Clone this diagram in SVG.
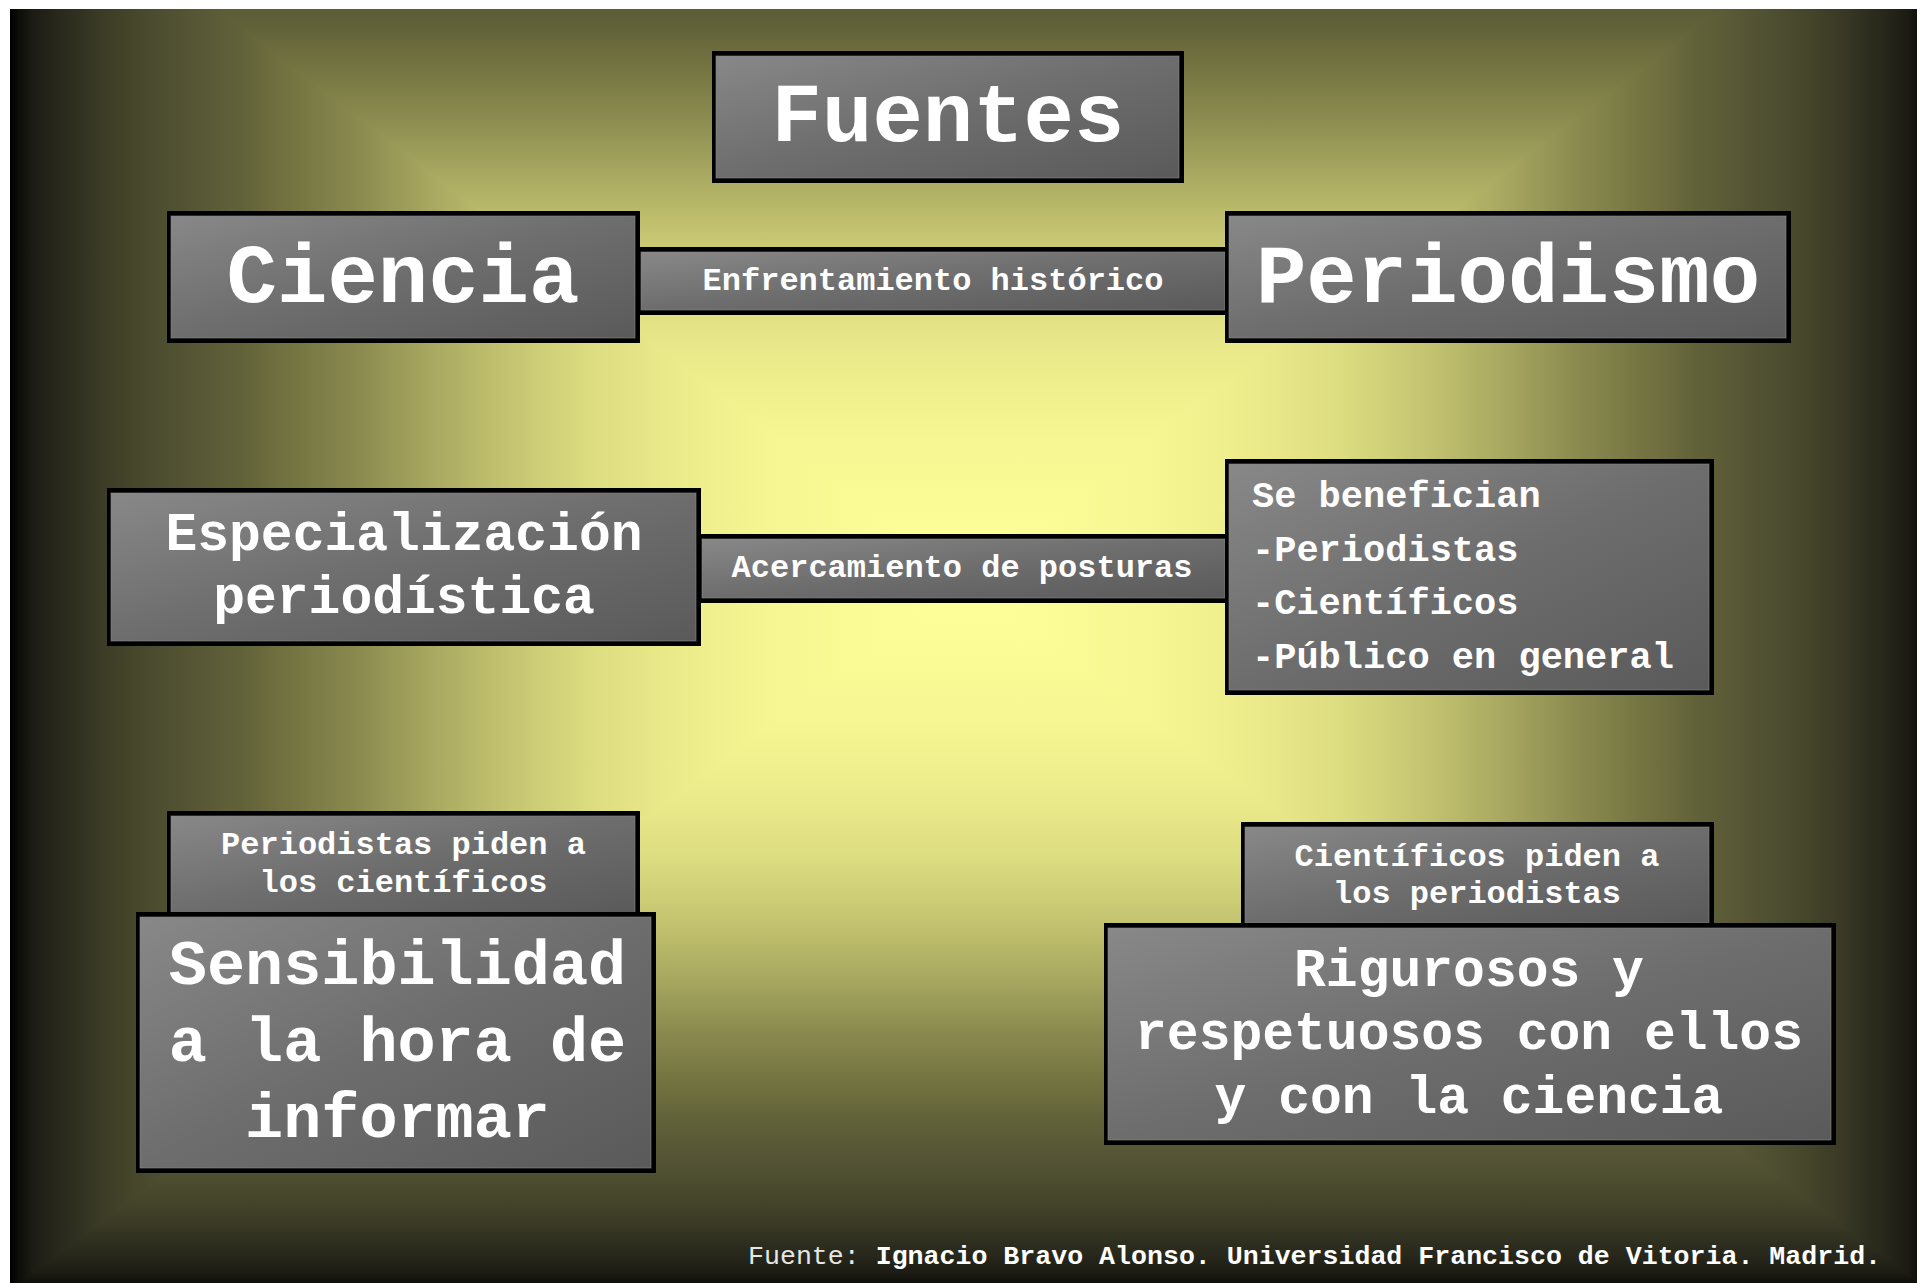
<svg xmlns="http://www.w3.org/2000/svg" width="1917" height="1283" viewBox="0 0 1917 1283">
<style>
.sh{fill:#000}
.face{fill:url(#boxg);stroke:#8a8a8a;stroke-opacity:0.6;stroke-width:1}
.t{font-family:"Liberation Mono","Courier New",monospace;font-weight:bold;fill:#ffffff}
.big{font-size:84px}
.mid{font-size:53px}
.sm{font-size:32px}
</style>
<defs>
<linearGradient id="boxg" x1="0" y1="0" x2="1" y2="1">
<stop offset="0" stop-color="#888888"/>
<stop offset="0.5" stop-color="#6d6d6d"/>
<stop offset="1" stop-color="#5a5a5a"/>
</linearGradient>
<linearGradient id="bgL" gradientUnits="userSpaceOnUse" x1="10" y1="0" x2="964" y2="0">
<stop offset="0" stop-color="#000000"/><stop offset="0.01" stop-color="#0e0e0a"/><stop offset="0.024" stop-color="#1c1c14"/><stop offset="0.06" stop-color="#2c2c1e"/><stop offset="0.094" stop-color="#3a3a26"/><stop offset="0.129" stop-color="#46462b"/><stop offset="0.165" stop-color="#4f4f32"/><stop offset="0.189" stop-color="#555535"/><stop offset="0.24" stop-color="#616139"/><stop offset="0.3" stop-color="#757542"/><stop offset="0.364" stop-color="#8a8a4f"/><stop offset="0.428" stop-color="#a3a35e"/><stop offset="0.49" stop-color="#b9b96a"/><stop offset="0.552" stop-color="#cdcd77"/><stop offset="0.614" stop-color="#dddd81"/><stop offset="0.677" stop-color="#e8e889"/><stop offset="0.74" stop-color="#f0f08e"/><stop offset="0.802" stop-color="#f6f692"/><stop offset="0.93" stop-color="#fdfd98"/><stop offset="1" stop-color="#ffff99"/>
</linearGradient>
<linearGradient id="bgR" href="#bgL" gradientUnits="userSpaceOnUse" x1="1930" y1="0" x2="964" y2="0"/>
<linearGradient id="bgT" href="#bgL" gradientUnits="userSpaceOnUse" x1="0" y1="-150" x2="0" y2="582"/>
<linearGradient id="bgB" href="#bgL" gradientUnits="userSpaceOnUse" x1="0" y1="1290" x2="0" y2="582"/>
<clipPath id="slide"><rect x="10" y="9" width="1907" height="1274"/></clipPath>
</defs>
<rect x="0" y="0" width="1917" height="1283" fill="#ffffff"/>
<g id="background" clip-path="url(#slide)">
<rect x="10" y="9" width="1907" height="1274" fill="#000"/>
<rect x="10" y="-150" width="954" height="1440" fill="url(#bgL)"/>
<rect x="964" y="-150" width="966" height="1440" fill="url(#bgR)"/>
<polygon points="964,582 10,-150 1930,-150" fill="url(#bgT)"/>
<polygon points="964,582 10,1290 1930,1290" fill="url(#bgB)"/>
</g>
<g id="connectors">
<g id="link-enfrentamiento">
<rect class="sh" x="637" y="247" width="592" height="68"/>
<rect class="face" x="641" y="252" width="584" height="58"/>
<text class="t sm" x="933" y="290" text-anchor="middle">Enfrentamiento histórico</text>
</g>
<g id="link-acercamiento">
<rect class="sh" x="698" y="534" width="531" height="69"/>
<rect class="face" x="702" y="539" width="523" height="59"/>
<text class="t sm" x="962" y="577" text-anchor="middle">Acercamiento de posturas</text>
</g>
</g>
<g id="node-fuentes">
<rect class="sh" x="712" y="51" width="472" height="132"/>
<rect class="face" x="716" y="56" width="463" height="122"/>
<text class="t big" x="948" y="141" text-anchor="middle">Fuentes</text>
</g>
<g id="node-ciencia">
<rect class="sh" x="167" y="211" width="473" height="132"/>
<rect class="face" x="171" y="216" width="464" height="122"/>
<text class="t big" x="403" y="302" text-anchor="middle">Ciencia</text>
</g>
<g id="node-periodismo">
<rect class="sh" x="1225" y="211" width="566" height="132"/>
<rect class="face" x="1229" y="216" width="557" height="122"/>
<text class="t big" x="1508" y="302" text-anchor="middle">Periodismo</text>
</g>
<g id="node-especializacion">
<rect class="sh" x="107" y="488" width="594" height="158"/>
<rect class="face" x="111" y="493" width="585" height="148"/>
<text class="t mid" x="404" y="550" text-anchor="middle">Especialización</text>
<text class="t mid" x="404" y="613" text-anchor="middle">periodística</text>
</g>
<g id="node-benefician">
<rect class="sh" x="1225" y="459" width="489" height="236"/>
<rect class="face" x="1229" y="464" width="480" height="226"/>
<g class="t" font-size="37">
<text x="1252" y="507">Se benefician</text>
<text x="1252" y="561">-Periodistas</text>
<text x="1252" y="614">-Científicos</text>
<text x="1252" y="668">-Público en general</text>
</g>
</g>
<g id="node-periodistas-piden">
<rect class="sh" x="167" y="811" width="473" height="107"/>
<rect class="face" x="171" y="816" width="464" height="97"/>
<text class="t sm" x="403.5" y="854" text-anchor="middle">Periodistas piden a</text>
<text class="t sm" x="403.5" y="892" text-anchor="middle">los científicos</text>
</g>
<g id="node-sensibilidad">
<rect class="sh" x="136" y="912" width="520" height="261"/>
<rect class="face" x="140" y="917" width="511" height="251"/>
<g class="t" font-size="63.5" text-anchor="middle">
<text x="397.5" y="984">Sensibilidad</text>
<text x="397.5" y="1061">a la hora de</text>
<text x="397.5" y="1137">informar</text>
</g>
</g>
<g id="node-cientificos-piden">
<rect class="sh" x="1241" y="822" width="473" height="106"/>
<rect class="face" x="1245" y="827" width="464" height="96"/>
<text class="t sm" x="1477" y="866" text-anchor="middle">Científicos piden a</text>
<text class="t sm" x="1477" y="903" text-anchor="middle">los periodistas</text>
</g>
<g id="node-rigurosos">
<rect class="sh" x="1104" y="923" width="732" height="222"/>
<rect class="face" x="1108" y="928" width="723" height="212"/>
<g class="t mid" text-anchor="middle">
<text x="1469" y="986">Rigurosos y</text>
<text x="1469" y="1049">respetuosos con ellos</text>
<text x="1469" y="1113">y con la ciencia</text>
</g>
</g>
<g id="footer">
<text x="748" y="1264" font-family="Liberation Mono, Courier New, monospace" font-size="26.6" fill="#e6e6e6"><tspan>Fuente: </tspan><tspan font-weight="bold" fill="#ffffff">Ignacio Bravo Alonso. Universidad Francisco de Vitoria. Madrid.</tspan></text>
</g>
</svg>
